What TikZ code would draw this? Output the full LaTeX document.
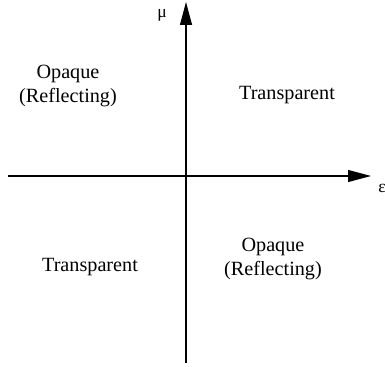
\documentclass[tikz,border=0pt]{standalone}
\usepackage{fontspec}
\setmainfont{Liberation Serif}
\usetikzlibrary{arrows.meta,positioning}

\begin{document}
\begin{tikzpicture}[x=0.02cm,y=-0.02cm,
          axis/.style={line width=0.6pt,-{Triangle[length=4.6mm,width=2.4mm]}},
          region/.style={inner sep=0pt,align=center,font=\fontsize{11.5}{14.2}\selectfont},
          sym/.style={inner sep=0pt,font=\fontsize{10}{12}\selectfont}]
          \useasboundingbox (0,0) rectangle (385,367);
          % axes
          \coordinate (left) at (8,176);
          \coordinate (right) at (371,176);
          \coordinate (bottom) at (186,363);
          \coordinate (top) at (186,2);
          \draw[axis] (left) -- (right);
          \draw[axis] (bottom) -- (top);
          \node[sym](mu) at (162,15){μ};
          \node[sym](eps) at (382,188){ε};
          % regions
          \node[region](q2) at (68,86){Opaque\\(Reflecting)};
          \node[region,anchor=base](q1) at (287,100){Transparent};
          \node[region,anchor=base](q3) at (90,272){Transparent};
          \node[region](q4) at (273,259){Opaque\\(Reflecting)};
        \end{tikzpicture}
\end{document}
